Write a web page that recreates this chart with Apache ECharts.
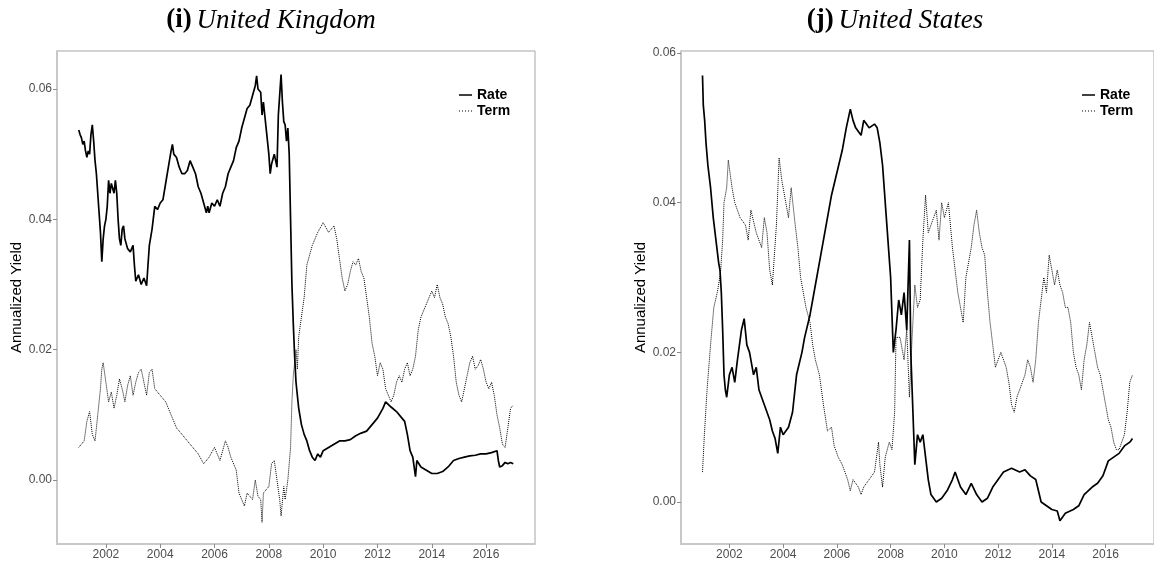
<!DOCTYPE html>
<html>
<head>
<meta charset="utf-8">
<script src="https://cdn.jsdelivr.net/npm/echarts@6/dist/echarts.min.js"></script>
<style>
html,body{margin:0;padding:0;background:#fff;}
#chart{width:1154px;height:564px;}
</style>
</head>
<body>
<div id="chart"></div>
<script>
// ---- data (decimal year, annualized yield) ----
var ukRate = [[2001.00,0.0537],[2001.05,0.0530],[2001.10,0.0525],[2001.15,0.0515],[2001.20,0.0520],[2001.25,0.0505],[2001.30,0.0495],[2001.35,0.0505],[2001.40,0.0500],[2001.45,0.0530],[2001.50,0.0545],[2001.55,0.0520],[2001.60,0.0490],[2001.65,0.0470],[2001.70,0.0440],[2001.75,0.0410],[2001.80,0.0380],[2001.85,0.0335],[2001.90,0.0370],[2001.95,0.0390],[2002.00,0.0400],[2002.05,0.0420],[2002.10,0.0460],[2002.15,0.0440],[2002.20,0.0455],[2002.30,0.0440],[2002.35,0.0460],[2002.40,0.0440],[2002.45,0.0400],[2002.50,0.0370],[2002.55,0.0360],[2002.60,0.0385],[2002.65,0.0390],[2002.70,0.0370],[2002.80,0.0355],[2002.90,0.0350],[2003.00,0.0360],[2003.05,0.0330],[2003.10,0.0305],[2003.20,0.0315],[2003.30,0.0300],[2003.40,0.0310],[2003.50,0.0298],[2003.55,0.0330],[2003.60,0.0360],[2003.70,0.0385],[2003.80,0.0420],[2003.90,0.0415],[2004.00,0.0425],[2004.10,0.0430],[2004.20,0.0455],[2004.30,0.0480],[2004.40,0.0505],[2004.45,0.0515],[2004.50,0.0500],[2004.60,0.0495],[2004.70,0.0480],[2004.80,0.0470],[2004.90,0.0470],[2005.00,0.0475],[2005.10,0.0490],[2005.20,0.0480],[2005.30,0.0470],[2005.40,0.0450],[2005.50,0.0440],[2005.60,0.0425],[2005.70,0.0410],[2005.75,0.0420],[2005.80,0.0410],[2005.90,0.0425],[2006.00,0.0420],[2006.10,0.0430],[2006.20,0.0420],[2006.30,0.0440],[2006.40,0.0450],[2006.50,0.0470],[2006.60,0.0480],[2006.70,0.0490],[2006.80,0.0510],[2006.90,0.0520],[2007.00,0.0540],[2007.10,0.0555],[2007.20,0.0570],[2007.30,0.0575],[2007.40,0.0590],[2007.50,0.0605],[2007.55,0.0620],[2007.60,0.0600],[2007.70,0.0595],[2007.75,0.0560],[2007.80,0.0580],[2007.90,0.0540],[2008.00,0.0500],[2008.05,0.0470],[2008.10,0.0485],[2008.20,0.0500],[2008.30,0.0480],[2008.35,0.0560],[2008.45,0.0622],[2008.50,0.0580],[2008.55,0.0550],[2008.60,0.0545],[2008.65,0.0520],[2008.70,0.0540],[2008.75,0.0500],[2008.80,0.0400],[2008.85,0.0300],[2008.90,0.0240],[2008.95,0.0190],[2009.00,0.0150],[2009.10,0.0110],[2009.20,0.0085],[2009.30,0.0070],[2009.40,0.0060],[2009.50,0.0045],[2009.60,0.0035],[2009.70,0.0030],[2009.80,0.0040],[2009.90,0.0035],[2010.00,0.0045],[2010.20,0.0050],[2010.40,0.0055],[2010.60,0.0060],[2010.80,0.0060],[2011.00,0.0062],[2011.20,0.0068],[2011.40,0.0072],[2011.60,0.0075],[2011.80,0.0085],[2012.00,0.0095],[2012.20,0.0110],[2012.30,0.0120],[2012.50,0.0112],[2012.70,0.0105],[2012.90,0.0095],[2013.00,0.0090],[2013.10,0.0070],[2013.20,0.0045],[2013.30,0.0035],[2013.40,0.0005],[2013.45,0.0030],[2013.60,0.0020],[2013.80,0.0015],[2014.00,0.0010],[2014.20,0.0010],[2014.40,0.0013],[2014.60,0.0020],[2014.80,0.0030],[2015.00,0.0033],[2015.20,0.0035],[2015.40,0.0037],[2015.60,0.0038],[2015.80,0.0040],[2016.00,0.0040],[2016.20,0.0042],[2016.40,0.0045],[2016.45,0.0030],[2016.50,0.0020],[2016.60,0.0022],[2016.70,0.0027],[2016.80,0.0025],[2016.90,0.0027],[2017.00,0.0025]];

var ukTerm = [[2001.00,0.0050],[2001.10,0.0055],[2001.20,0.0060],[2001.30,0.0090],[2001.40,0.0105],[2001.50,0.0070],[2001.60,0.0060],[2001.70,0.0100],[2001.80,0.0140],[2001.85,0.0170],[2001.90,0.0180],[2002.00,0.0150],[2002.10,0.0120],[2002.20,0.0135],[2002.30,0.0110],[2002.40,0.0130],[2002.50,0.0155],[2002.60,0.0140],[2002.70,0.0120],[2002.80,0.0145],[2002.90,0.0160],[2003.00,0.0130],[2003.10,0.0150],[2003.20,0.0165],[2003.30,0.0170],[2003.40,0.0150],[2003.50,0.0130],[2003.60,0.0165],[2003.70,0.0170],[2003.80,0.0140],[2004.00,0.0130],[2004.20,0.0120],[2004.40,0.0100],[2004.60,0.0080],[2004.80,0.0070],[2005.00,0.0060],[2005.20,0.0050],[2005.40,0.0040],[2005.60,0.0025],[2005.80,0.0035],[2006.00,0.0050],[2006.20,0.0030],[2006.40,0.0060],[2006.50,0.0050],[2006.60,0.0035],[2006.80,0.0015],[2006.90,-0.0020],[2007.00,-0.0030],[2007.10,-0.0040],[2007.20,-0.0020],[2007.30,-0.0025],[2007.40,-0.0030],[2007.50,0.0000],[2007.60,-0.0025],[2007.70,-0.0030],[2007.75,-0.0065],[2007.80,-0.0020],[2008.00,-0.0010],[2008.10,0.0025],[2008.20,0.0030],[2008.30,0.0000],[2008.40,-0.0030],[2008.45,-0.0055],[2008.55,-0.0010],[2008.60,-0.0030],[2008.70,0.0000],[2008.80,0.0050],[2008.85,0.0120],[2008.90,0.0160],[2009.00,0.0200],[2009.05,0.0170],[2009.10,0.0220],[2009.20,0.0250],[2009.30,0.0280],[2009.40,0.0330],[2009.60,0.0360],[2009.80,0.0380],[2010.00,0.0395],[2010.20,0.0380],[2010.40,0.0390],[2010.50,0.0370],[2010.60,0.0340],[2010.70,0.0310],[2010.80,0.0290],[2010.90,0.0300],[2011.00,0.0320],[2011.10,0.0335],[2011.20,0.0330],[2011.30,0.0340],[2011.40,0.0320],[2011.50,0.0310],[2011.60,0.0280],[2011.70,0.0250],[2011.80,0.0210],[2011.90,0.0190],[2012.00,0.0160],[2012.10,0.0180],[2012.20,0.0170],[2012.30,0.0140],[2012.40,0.0130],[2012.50,0.0120],[2012.60,0.0130],[2012.70,0.0150],[2012.80,0.0160],[2012.90,0.0150],[2013.00,0.0170],[2013.10,0.0180],[2013.20,0.0160],[2013.30,0.0170],[2013.40,0.0190],[2013.50,0.0230],[2013.60,0.0250],[2013.70,0.0260],[2013.80,0.0270],[2013.90,0.0280],[2014.00,0.0290],[2014.10,0.0280],[2014.20,0.0300],[2014.30,0.0280],[2014.40,0.0270],[2014.50,0.0250],[2014.60,0.0240],[2014.70,0.0220],[2014.80,0.0190],[2014.90,0.0150],[2015.00,0.0130],[2015.10,0.0120],[2015.20,0.0140],[2015.30,0.0160],[2015.40,0.0180],[2015.50,0.0190],[2015.60,0.0170],[2015.70,0.0175],[2015.80,0.0185],[2015.90,0.0170],[2016.00,0.0150],[2016.10,0.0140],[2016.20,0.0150],[2016.30,0.0130],[2016.40,0.0100],[2016.50,0.0080],[2016.60,0.0055],[2016.70,0.0050],[2016.80,0.0080],[2016.90,0.0110],[2017.00,0.0115]];

var usRate = [[2001.00,0.0570],[2001.03,0.0530],[2001.08,0.0510],[2001.13,0.0480],[2001.20,0.0450],[2001.30,0.0420],[2001.40,0.0380],[2001.50,0.0350],[2001.60,0.0320],[2001.65,0.0310],[2001.70,0.0280],[2001.75,0.0230],[2001.80,0.0170],[2001.85,0.0150],[2001.90,0.0140],[2002.00,0.0170],[2002.10,0.0180],[2002.20,0.0160],[2002.30,0.0190],[2002.45,0.0230],[2002.55,0.0245],[2002.65,0.0210],[2002.75,0.0200],[2002.90,0.0170],[2003.00,0.0180],[2003.10,0.0150],[2003.30,0.0130],[2003.50,0.0110],[2003.60,0.0095],[2003.70,0.0085],[2003.80,0.0065],[2003.90,0.0100],[2004.00,0.0090],[2004.20,0.0100],[2004.35,0.0120],[2004.50,0.0170],[2004.70,0.0200],[2004.80,0.0220],[2005.00,0.0250],[2005.20,0.0290],[2005.40,0.0330],[2005.60,0.0370],[2005.80,0.0410],[2006.00,0.0440],[2006.20,0.0470],[2006.35,0.0500],[2006.50,0.0525],[2006.60,0.0510],[2006.70,0.0500],[2006.90,0.0490],[2007.00,0.0510],[2007.20,0.0500],[2007.40,0.0505],[2007.50,0.0500],[2007.60,0.0480],[2007.70,0.0450],[2007.80,0.0400],[2007.90,0.0350],[2008.00,0.0300],[2008.10,0.0200],[2008.20,0.0230],[2008.30,0.0270],[2008.40,0.0250],[2008.50,0.0280],[2008.60,0.0230],[2008.70,0.0350],[2008.75,0.0200],[2008.85,0.0100],[2008.90,0.0050],[2009.00,0.0090],[2009.10,0.0080],[2009.20,0.0090],[2009.30,0.0060],[2009.40,0.0030],[2009.50,0.0010],[2009.70,0.0000],[2009.90,0.0005],[2010.10,0.0015],[2010.30,0.0030],[2010.40,0.0040],[2010.60,0.0020],[2010.80,0.0010],[2011.00,0.0025],[2011.20,0.0010],[2011.40,0.0000],[2011.60,0.0005],[2011.80,0.0020],[2012.00,0.0030],[2012.20,0.0040],[2012.50,0.0045],[2012.80,0.0040],[2013.00,0.0043],[2013.20,0.0035],[2013.40,0.0030],[2013.60,0.0000],[2013.80,-0.0005],[2014.00,-0.0010],[2014.20,-0.0012],[2014.30,-0.0025],[2014.50,-0.0015],[2014.80,-0.0010],[2015.00,-0.0005],[2015.20,0.0010],[2015.50,0.0020],[2015.70,0.0025],[2015.90,0.0035],[2016.10,0.0055],[2016.30,0.0060],[2016.50,0.0065],[2016.70,0.0075],[2016.90,0.0080],[2017.00,0.0085]];

var usTerm = [[2001.00,0.0040],[2001.07,0.0090],[2001.17,0.0150],[2001.30,0.0210],[2001.42,0.0260],[2001.55,0.0280],[2001.67,0.0306],[2001.75,0.0350],[2001.80,0.0400],[2001.90,0.0420],[2001.96,0.0457],[2002.10,0.0420],[2002.20,0.0400],[2002.40,0.0380],[2002.60,0.0370],[2002.70,0.0350],[2002.80,0.0390],[2003.00,0.0360],[2003.20,0.0340],[2003.30,0.0380],[2003.40,0.0360],[2003.50,0.0310],[2003.60,0.0290],[2003.75,0.0370],[2003.85,0.0460],[2003.95,0.0430],[2004.10,0.0400],[2004.20,0.0380],[2004.30,0.0420],[2004.45,0.0370],[2004.55,0.0340],[2004.65,0.0300],[2004.75,0.0280],[2004.85,0.0260],[2005.00,0.0240],[2005.10,0.0210],[2005.20,0.0190],[2005.35,0.0170],[2005.50,0.0130],[2005.65,0.0095],[2005.80,0.0100],[2005.90,0.0075],[2006.05,0.0060],[2006.20,0.0050],[2006.40,0.0030],[2006.50,0.0015],[2006.60,0.0030],[2006.80,0.0020],[2006.90,0.0010],[2007.00,0.0020],[2007.20,0.0030],[2007.40,0.0040],[2007.55,0.0080],[2007.60,0.0050],[2007.70,0.0020],[2007.80,0.0060],[2007.95,0.0080],[2008.05,0.0070],[2008.15,0.0120],[2008.20,0.0220],[2008.35,0.0220],[2008.50,0.0190],[2008.60,0.0230],[2008.70,0.0140],[2008.80,0.0220],[2008.90,0.0290],[2009.00,0.0260],[2009.10,0.0270],[2009.20,0.0350],[2009.30,0.0410],[2009.40,0.0360],[2009.50,0.0370],[2009.60,0.0380],[2009.70,0.0390],[2009.80,0.0350],[2009.90,0.0400],[2010.00,0.0380],[2010.15,0.0400],[2010.30,0.0340],[2010.40,0.0310],[2010.50,0.0280],[2010.60,0.0260],[2010.70,0.0240],[2010.80,0.0300],[2011.00,0.0340],[2011.10,0.0370],[2011.20,0.0390],[2011.30,0.0360],[2011.40,0.0340],[2011.50,0.0330],[2011.60,0.0280],[2011.70,0.0240],[2011.80,0.0210],[2011.90,0.0180],[2012.00,0.0190],[2012.10,0.0200],[2012.30,0.0180],[2012.40,0.0160],[2012.50,0.0130],[2012.60,0.0120],[2012.70,0.0140],[2012.80,0.0150],[2012.90,0.0160],[2013.00,0.0170],[2013.10,0.0190],[2013.20,0.0180],[2013.30,0.0160],[2013.40,0.0190],[2013.50,0.0240],[2013.60,0.0270],[2013.70,0.0300],[2013.80,0.0280],[2013.90,0.0330],[2014.00,0.0310],[2014.10,0.0290],[2014.20,0.0310],[2014.30,0.0290],[2014.40,0.0280],[2014.50,0.0260],[2014.60,0.0260],[2014.70,0.0240],[2014.80,0.0200],[2014.90,0.0180],[2015.00,0.0170],[2015.10,0.0150],[2015.20,0.0190],[2015.30,0.0210],[2015.40,0.0240],[2015.50,0.0220],[2015.60,0.0200],[2015.70,0.0180],[2015.80,0.0170],[2015.90,0.0150],[2016.00,0.0130],[2016.10,0.0110],[2016.20,0.0100],[2016.30,0.0080],[2016.40,0.0070],[2016.50,0.0070],[2016.60,0.0080],[2016.70,0.0090],[2016.80,0.0120],[2016.90,0.0160],[2017.00,0.0170]];

var xTicks = [2002, 2004, 2006, 2008, 2010, 2012, 2014, 2016];
var yTicks = [0, 0.02, 0.04, 0.06];
var seriesNames = ['Rate', 'Term'];
var panelTitles = [['(i)', 'United Kingdom'], ['(j)', 'United States']];
var yName = 'Annualized Yield';

// ---- chart ----
var chart = echarts.init(document.getElementById('chart'), null, {renderer: 'canvas'});
var tickColor = '#4d4d4d';
function xAxis(gi) {
  return {
    type: 'value', gridIndex: gi, min: 2000.2, max: 2017.8,
    axisLine: {show: true, onZero: false, lineStyle: {color: '#c8c8c8', width: 2}},
    axisTick: {show: true, length: 4, lineStyle: {color: '#8c8c8c'}, customValues: xTicks},
    axisLabel: {color: tickColor, fontSize: 12, fontFamily: 'Liberation Sans', margin: 5, customValues: xTicks, formatter: function(v){return String(Math.round(v));}},
    splitLine: {show: false}
  };
}
function yAxis(gi, mn, mx) {
  return {
    type: 'value', gridIndex: gi, min: mn, max: mx,
    name: yName, nameLocation: 'middle', nameRotate: 90, nameGap: 32,
    nameTextStyle: {color: '#000', fontSize: 15, fontFamily: 'Liberation Sans'},
    axisLine: {show: true, onZero: false, lineStyle: {color: '#c8c8c8', width: 2}},
    axisTick: {show: true, length: 4, lineStyle: {color: '#8c8c8c'}, customValues: yTicks},
    axisLabel: {color: tickColor, fontSize: 12, fontFamily: 'Liberation Sans', margin: 5, customValues: yTicks, formatter: function(v){return v.toFixed(2);}},
    splitLine: {show: false}
  };
}
function lineSeries(name, data, gi, dotted) {
  return {
    name: name, type: 'line', xAxisIndex: gi, yAxisIndex: gi, data: data,
    showSymbol: false, symbol: 'none', silent: true, animation: false,
    lineStyle: {color: '#000', width: dotted ? 1 : 1.7, type: dotted ? 'dotted' : 'solid'},
    itemStyle: {color: '#000'}
  };
}
function titleRich(t, cx) {
  return {
    text: '{b|' + t[0] + '} {i|' + t[1] + '}',
    left: cx, top: 2, textAlign: 'center',
    textStyle: {fontWeight: 'normal', rich: {
      b: {fontFamily: 'Liberation Serif', fontWeight: 'bold', fontSize: 27, color: '#000'},
      i: {fontFamily: 'Liberation Serif', fontStyle: 'italic', fontWeight: 'normal', fontSize: 27, color: '#000'}
    }}
  };
}
// legend drawn as plain shapes + text
function legendGraphics(x, y) {
  var items = [];
  seriesNames.forEach(function(n, i) {
    var yy = y + i * 16;
    items.push({type: 'line', silent: true, shape: {x1: x, y1: yy, x2: x + 13, y2: yy},
      style: {stroke: '#000', lineWidth: i === 0 ? 1.5 : 1, lineDash: i === 0 ? null : [1, 2]}});
    items.push({type: 'text', silent: true, x: x + 18, y: yy,
      style: {text: n, fill: '#000', font: 'bold 14px "Liberation Sans"', textVerticalAlign: 'middle', verticalAlign: 'middle'}});
  });
  return items;
}
var option = {
  animation: false,
  backgroundColor: '#fff',
  title: [titleRich(panelTitles[0], 266), titleRich(panelTitles[1], 890)],
  grid: [
    {left: 57, top: 51, width: 478, height: 493, show: true, borderColor: '#a6a6a6', borderWidth: 1, backgroundColor: 'transparent'},
    {left: 681, top: 51, width: 479, height: 493, show: true, borderColor: '#a6a6a6', borderWidth: 1, backgroundColor: 'transparent'}
  ],
  graphic: legendGraphics(459, 95).concat(legendGraphics(1082, 95)),
  xAxis: [xAxis(0), xAxis(1)],
  yAxis: [yAxis(0, -0.00982, 0.06583), yAxis(1, -0.00561, 0.06027)],
  series: [
    lineSeries('Rate', ukRate, 0, false),
    lineSeries('Term', ukTerm, 0, true),
    lineSeries('Rate ', usRate, 1, false),
    lineSeries('Term ', usTerm, 1, true)
  ]
};
chart.setOption(option);
</script>
</body>
</html>
